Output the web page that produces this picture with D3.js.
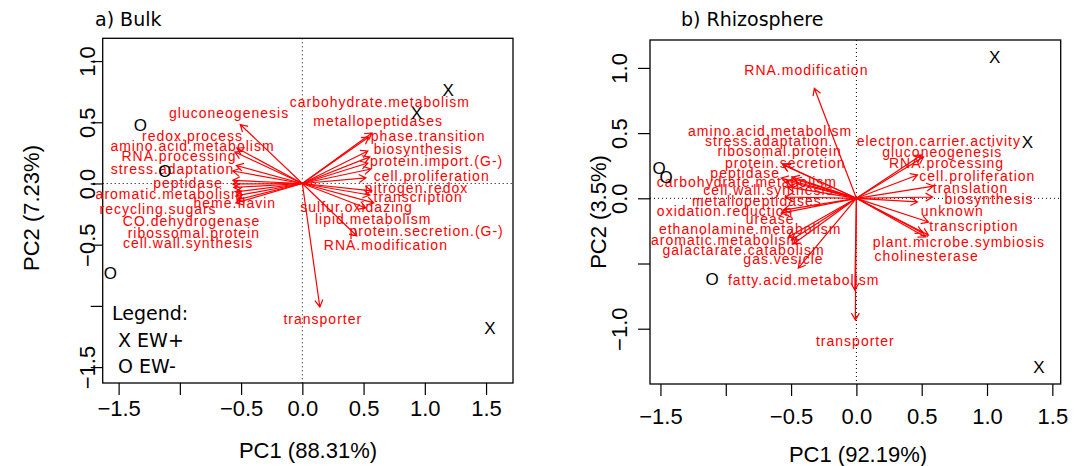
<!DOCTYPE html>
<html><head><meta charset="utf-8">
<script src="https://cdn.jsdelivr.net/npm/d3@7"></script>
<style>body{margin:0;background:#fff}</style>
</head><body><svg id="c" width="1084" height="466"></svg>
<script>
// ---------- data: a) Bulk ----------
const bulkVars = ["gluconeogenesis","redox.process","amino.acid.metabolism","RNA.processing","stress.adaptation","peptidase","aromatic.metabolism","recycling.sugars","CO.dehydrogenase","ribossomal.protein","cell.wall.synthesis","heme.flavin","carbohydrate.metabolism","metallopeptidases","phase.transition","biosynthesis","protein.import.(G-)","cell.proliferation","nitrogen.redox","transcription","sulfur.oxidazing","lipid.metabolism","protein.secretion.(G-)","RNA.modification","transporter"];
const bulkArrowPC1 = [-0.507,-0.535,-0.551,-0.539,-0.568,-0.568,-0.568,-0.560,-0.543,-0.543,-0.535,-0.543,0.568,0.543,0.535,0.551,0.535,0.560,0.519,0.568,0.551,0.584,0.519,0.445,0.143];
const bulkArrowPC2 = [0.482,0.290,0.257,0.147,0.102,0.025,-0.004,-0.033,-0.069,-0.102,-0.135,-0.159,0.413,0.380,0.266,0.217,0.167,0.118,0.045,-0.061,-0.094,-0.159,-0.200,-0.429,-1.009];
const bulkLabelPC1 = [-0.598,-0.897,-0.897,-1.007,-1.060,-0.933,-1.083,-1.178,-0.905,-0.886,-0.933,-0.551,0.633,0.619,1.028,0.946,1.096,1.056,0.933,0.946,0.443,0.578,1.015,0.682,0.167];
const bulkLabelPC2 = [0.574,0.382,0.301,0.219,0.110,0.002,-0.094,-0.211,-0.312,-0.407,-0.494,-0.167,0.660,0.505,0.382,0.274,0.178,0.056,-0.039,-0.113,-0.198,-0.292,-0.394,-0.508,-1.111];
const bulkSampleType = ["O","O","O","X","X","X"];
const bulkSamplePC1 = [-1.322,-1.123,-1.567,1.191,0.933,1.532];
const bulkSamplePC2 = [0.478,0.105,-0.729,0.764,0.574,-1.183];
const bulkXTicks = [-1.5,-1,-0.5,0,0.5,1,1.5];
const bulkXTickLabels = ["\u22121.5","","\u22120.5","0.0","0.5","1.0","1.5"];
const bulkYTicks = [-1.5,-1,-0.5,0,0.5,1];
const bulkYTickLabels = ["\u22121.5","","\u22120.5","0.0","0.5","1.0"];

// ---------- data: b) Rhizosphere ----------
const rhizoVars = ["RNA.modification","amino.acid.metabolism","stress.adaptation","ribosomal.protein","protein.secretion","peptidase","carbohydrate.metabolism","cell.wall.synthesis","metallopeptidases","oxidation.reduction","urease","ethanolamine.metabolism","aromatic.metabolism","galactarate.catabolism","gas.vesicle","fatty.acid.metabolism","transporter","electron.carrier.activity","gluconeogenesis","RNA.processing","cell.proliferation","translation","biosynthesis","unknown","transcription","plant.microbe.symbiosis","cholinesterase"];
const rhizoArrowPC1 = [-0.322,-0.560,-0.491,-0.475,-0.567,-0.575,-0.537,-0.529,-0.544,-0.560,-0.575,-0.521,-0.498,-0.483,-0.445,-0.012,-0.008,0.498,0.514,0.468,0.590,0.583,0.468,0.552,0.552,0.529,0.506];
const rhizoArrowPC2 = [0.844,0.255,0.163,0.148,0.263,0.156,0.133,0.087,0.010,-0.090,-0.113,-0.297,-0.320,-0.350,-0.535,-0.704,-0.933,0.332,0.317,0.179,0.094,0.010,-0.028,-0.182,-0.282,-0.297,-0.266];
const rhizoLabelPC1 = [-0.383,-0.660,-0.685,-0.588,-0.544,-0.851,-0.838,-0.673,-0.762,-1.005,-0.660,-0.813,-1.005,-0.864,-0.558,-0.404,-0.008,0.631,0.657,0.690,0.926,0.874,1.015,0.734,0.900,0.785,0.537];
const rhizoLabelPC2 = [0.979,0.511,0.434,0.357,0.268,0.192,0.120,0.058,-0.026,-0.103,-0.159,-0.243,-0.325,-0.402,-0.473,-0.632,-1.100,0.434,0.350,0.263,0.166,0.077,-0.008,-0.103,-0.218,-0.337,-0.448];
const rhizoSampleType = ["O","O","O","X","X","X"];
const rhizoSamplePC1 = [-1.511,-1.457,-1.104,1.058,1.309,1.398];
const rhizoSamplePC2 = [0.230,0.166,-0.619,1.084,0.429,-1.291];
const rhizoXTicks = [-1.5,-1,-0.5,0,0.5,1,1.5];
const rhizoXTickLabels = ["\u22121.5","","\u22120.5","0.0","0.5","1.0","1.5"];
const rhizoYTicks = [-1,-0.5,0,0.5,1];
const rhizoYTickLabels = ["\u22121.0","","0.0","0.5","1.0"];

const svg = d3.select("#c");
const AX_FONT = "'Liberation Sans', Arial, Helvetica, sans-serif";
const TITLE_FONT = "'DejaVu Sans', sans-serif";

function drawPanel(cfg) {
  const x = d3.scaleLinear().domain(cfg.xDom).range([cfg.left, cfg.right]);
  const y = d3.scaleLinear().domain(cfg.yDom).range([cfg.bottom, cfg.top]);
  const g = svg.append("g");

  // title
  g.append("text").attr("x", cfg.titleX).attr("y", 26)
    .attr("font-family", TITLE_FONT).attr("font-size", 19).attr("fill", "#000")
    .text(cfg.title);

  // dotted zero lines
  g.append("line").attr("x1", x(0)).attr("x2", x(0)).attr("y1", cfg.top).attr("y2", cfg.bottom)
    .attr("stroke", "#000").attr("stroke-width", 1).attr("stroke-dasharray", "1,3");
  g.append("line").attr("x1", cfg.left).attr("x2", cfg.right).attr("y1", y(0)).attr("y2", y(0))
    .attr("stroke", "#000").attr("stroke-width", 1).attr("stroke-dasharray", "1,3");

  // x axis
  const xa = g.append("g").attr("transform", `translate(0,${cfg.bottom})`)
    .call(d3.axisBottom(x).tickValues(cfg.xTicks).tickSize(12).tickPadding(cfg.xPad)
      .tickFormat((d, i) => cfg.xTickLabels[i]));
  xa.select(".domain").remove();
  xa.selectAll("line").attr("stroke", "#000").attr("stroke-width", 1.2);
  xa.selectAll("text").attr("font-family", AX_FONT).attr("font-size", 22).attr("fill", "#000");

  // y axis
  const ya = g.append("g").attr("transform", `translate(${cfg.left},0)`)
    .call(d3.axisLeft(y).tickValues(cfg.yTicks).tickSize(12)
      .tickFormat((d, i) => cfg.yTickLabels[i]));
  ya.select(".domain").remove();
  ya.selectAll("line").attr("stroke", "#000").attr("stroke-width", 1.2);
  ya.selectAll("text").attr("x", null).attr("dy", null)
    .attr("text-anchor", "middle")
    .attr("transform", `translate(${-(cfg.left - cfg.yLabX) + 8},0) rotate(-90)`)
    .attr("font-family", AX_FONT).attr("font-size", 22).attr("fill", "#000");

  // box
  g.append("rect").attr("x", cfg.left).attr("y", cfg.top)
    .attr("width", cfg.right - cfg.left).attr("height", cfg.bottom - cfg.top)
    .attr("fill", "none").attr("stroke", "#000").attr("stroke-width", 1.3);

  // axis titles
  g.append("text").attr("x", cfg.xTitleX).attr("y", cfg.xTitleY)
    .attr("text-anchor", "middle").attr("font-family", AX_FONT).attr("font-size", 22)
    .text(cfg.xTitle);
  g.append("text").attr("transform", `translate(${cfg.yTitleX},${cfg.yTitleY}) rotate(-90)`)
    .attr("text-anchor", "middle").attr("font-family", AX_FONT).attr("font-size", 22)
    .text(cfg.yTitle);

  // arrows
  const arrows = cfg.vars.map((v, i) => ({name: v, a1: cfg.a1[i], a2: cfg.a2[i], l1: cfg.l1[i], l2: cfg.l2[i]}));
  const ag = g.append("g").attr("stroke", "#ff0000").attr("stroke-width", 1.2).attr("fill", "none");
  const x0 = x(0), y0 = y(0);
  ag.selectAll("path.arr").data(arrows).enter().append("path").attr("class", "arr")
    .attr("d", d => {
      const tx = x(d.a1), ty = y(d.a2);
      const ang = Math.atan2(ty - y0, tx - x0);
      const L = 8, h = Math.PI / 6;
      const p1 = [tx - L * Math.cos(ang - h), ty - L * Math.sin(ang - h)];
      const p2 = [tx - L * Math.cos(ang + h), ty - L * Math.sin(ang + h)];
      return `M${x0},${y0}L${tx},${ty}M${p1[0]},${p1[1]}L${tx},${ty}L${p2[0]},${p2[1]}`;
    });
  g.selectAll("text.lab").data(arrows).enter().append("text").attr("class", "lab")
    .attr("x", d => x(d.l1)).attr("y", d => y(d.l2)).attr("dy", "0.32em")
    .attr("text-anchor", "middle").attr("font-family", AX_FONT).attr("font-size", 14)
    .attr("letter-spacing", 1).attr("fill", "#ff0000")
    .text(d => d.name);

  // samples
  const samples = cfg.sType.map((t, i) => ({t, p1: cfg.s1[i], p2: cfg.s2[i]}));
  g.selectAll("text.smp").data(samples).enter().append("text").attr("class", "smp")
    .attr("x", d => x(d.p1)).attr("y", d => y(d.p2)).attr("dy", "0.36em")
    .attr("text-anchor", "middle").attr("font-family", AX_FONT).attr("font-size", 17)
    .attr("fill", "#000").text(d => d.t);
  return {x, y};
}

drawPanel({
  title: "a) Bulk", titleX: 95,
  left: 102.7, right: 513, top: 38.3, bottom: 383,
  xDom: [-1.63, 1.72], yDom: [-1.63, 1.186],
  xTicks: bulkXTicks, xTickLabels: bulkXTickLabels, xPad: 5,
  yTicks: bulkYTicks, yTickLabels: bulkYTickLabels, yLabX: 87,
  xTitle: "PC1 (88.31%)", xTitleX: 308, xTitleY: 458,
  yTitle: "PC2 (7.23%)", yTitleX: 39, yTitleY: 208,
  vars: bulkVars, a1: bulkArrowPC1, a2: bulkArrowPC2, l1: bulkLabelPC1, l2: bulkLabelPC2,
  sType: bulkSampleType, s1: bulkSamplePC1, s2: bulkSamplePC2
});

drawPanel({
  title: "b) Rhizosphere", titleX: 681,
  left: 650, right: 1060.7, top: 40, bottom: 384,
  xDom: [-1.58, 1.564], yDom: [-1.424, 1.214],
  xTicks: rhizoXTicks, xTickLabels: rhizoXTickLabels, xPad: 12,
  yTicks: rhizoYTicks, yTickLabels: rhizoYTickLabels, yLabX: 619,
  xTitle: "PC1 (92.19%)", xTitleX: 858, xTitleY: 462,
  yTitle: "PC2 (3.5%)", yTitleX: 606, yTitleY: 212,
  vars: rhizoVars, a1: rhizoArrowPC1, a2: rhizoArrowPC2, l1: rhizoLabelPC1, l2: rhizoLabelPC2,
  sType: rhizoSampleType, s1: rhizoSamplePC1, s2: rhizoSamplePC2
});

// legend (bulk panel)
const legend = svg.append("g").attr("font-family", TITLE_FONT).attr("font-size", 19).attr("fill", "#000");
const legendLines = ["Legend:", " X EW+", " O EW-"];
legend.selectAll("text").data(legendLines).enter().append("text")
  .attr("x", 112).attr("y", (d, i) => 320 + i * 26.5)
  .attr("xml:space", "preserve").style("white-space", "pre").text(d => d);
</script>
</body></html>
